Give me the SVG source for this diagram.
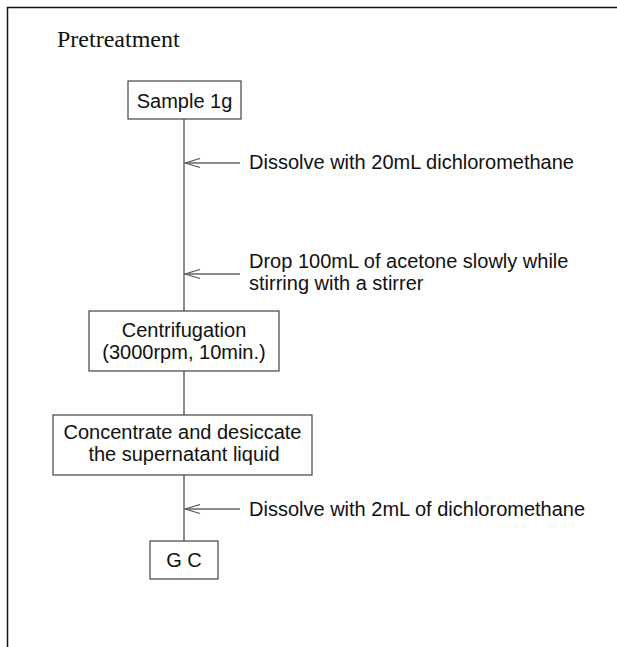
<svg xmlns="http://www.w3.org/2000/svg" width="617" height="647" viewBox="0 0 617 647">
  <style>
    .frame { fill: none; stroke: #111; stroke-width: 1.5; }
    .box { fill: #fff; stroke: #444; stroke-width: 1.2; }
    .conn { fill: none; stroke: #666; stroke-width: 1.5; }
    .lbl { font-family: "Liberation Sans", Arial, sans-serif; font-size: 20px; fill: #111; }
    .ctr { text-anchor: middle; }
    .title { font-family: "Liberation Serif", "Times New Roman", serif; font-size: 24px; fill: #111; }
  </style>
  <defs>
    <marker id="chev" markerUnits="userSpaceOnUse" markerWidth="17" markerHeight="11" viewBox="0 0 17 11" refX="16" refY="5.5" orient="auto">
      <path d="M1,1 L16,5.5 L1,10" fill="none" stroke="#555" stroke-width="1.2"/>
    </marker>
  </defs>
  <rect width="617" height="647" fill="#fff"/>
  <g id="frame">
    <path class="frame" d="M7.5,647 L7.5,7.5 L617,7.5"/>
  </g>
  <text class="title" x="57" y="47">Pretreatment</text>

  <g id="connectors">
    <line class="conn" x1="184" y1="119" x2="184" y2="311"/>
    <line class="conn" x1="184" y1="371" x2="184" y2="415"/>
    <line class="conn" x1="184" y1="475" x2="184" y2="541"/>
    <line class="conn" x1="240" y1="163" x2="185" y2="163" marker-end="url(#chev)"/>
    <line class="conn" x1="240" y1="274" x2="185" y2="274" marker-end="url(#chev)"/>
    <line class="conn" x1="240" y1="509" x2="185" y2="509" marker-end="url(#chev)"/>
  </g>

  <g id="sample">
    <rect class="box" x="128" y="81" width="113" height="38"/>
    <text class="lbl ctr" x="184.5" y="108">Sample 1g</text>
  </g>
  <g id="step-dissolve1">
    <text class="lbl" x="249" y="169">Dissolve with 20mL dichloromethane</text>
  </g>
  <g id="step-acetone">
    <text class="lbl" x="249" y="268">Drop 100mL of acetone slowly while</text>
    <text class="lbl" x="249" y="290">stirring with a stirrer</text>
  </g>
  <g id="centrifugation">
    <rect class="box" x="89" y="311" width="190" height="60"/>
    <text class="lbl ctr" x="184" y="337">Centrifugation</text>
    <text class="lbl ctr" x="184" y="359">(3000rpm, 10min.)</text>
  </g>
  <g id="concentrate">
    <rect class="box" x="53" y="415" width="259" height="60"/>
    <text class="lbl ctr" x="182.5" y="439">Concentrate and desiccate</text>
    <text class="lbl ctr" x="184" y="461">the supernatant liquid</text>
  </g>
  <g id="step-dissolve2">
    <text class="lbl" x="249" y="516">Dissolve with 2mL of dichloromethane</text>
  </g>
  <g id="gc">
    <rect class="box" x="150" y="541" width="68" height="38"/>
    <text class="lbl ctr" x="184" y="567">G C</text>
  </g>
</svg>
